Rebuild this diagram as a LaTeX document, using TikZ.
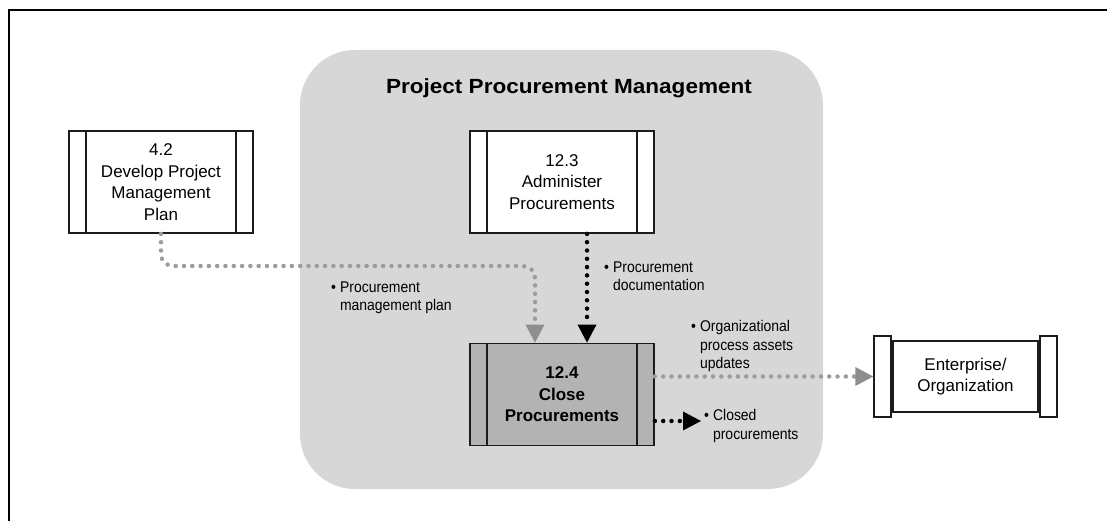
\documentclass[tikz,border=0pt]{standalone}
\usepackage{fontspec}
\setmainfont{Liberation Sans}
\newfontfamily\narrowfont{Liberation Sans}[FakeStretch=0.9]
\newfontfamily\widefont{Liberation Sans}[FakeStretch=1.1]
\usetikzlibrary{positioning,arrows.meta,calc}
\definecolor{regiongray}{HTML}{D7D7D7}
\definecolor{closegray}{HTML}{B3B3B3}
\definecolor{dotgray}{HTML}{9C9C9C}
\definecolor{tipgray}{HTML}{8E8E8E}
\definecolor{edgeblack}{HTML}{1C1C1C}
\newcommand{\bitem}[1]{\begin{tabular}[t]{@{}l@{\hspace{4pt}}l@{}}\textbullet&\begin{tabular}[t]{@{}l@{}}#1\end{tabular}\end{tabular}}
\tikzset{
  procbox/.style={draw=edgeblack,line width=1.8pt,fill=white,minimum width=184pt,
    minimum height=102pt,align=center,inner sep=0pt,font=\fontsize{17}{21.5}\selectfont,
    path picture={\draw[edgeblack,line width=1.8pt]
      ([xshift=17pt]path picture bounding box.north west) -- ([xshift=17pt]path picture bounding box.south west)
      ([xshift=-17pt]path picture bounding box.north east) -- ([xshift=-17pt]path picture bounding box.south east);}},
  entbox/.style={draw=edgeblack,line width=1.8pt,fill=white,minimum width=145pt,
    minimum height=71pt,align=center,inner sep=0pt,font=\fontsize{17}{21}\selectfont},
  entbar/.style={draw=edgeblack,line width=1.8pt,fill=white,minimum width=17pt,
    minimum height=81pt,inner sep=0pt},
  outlbl/.style={font=\narrowfont\fontsize{15.5}{18.5}\selectfont,inner sep=0pt,anchor=base west},
  graydots/.style={dotgray,line width=4.5pt,line cap=round,dash pattern=on 0pt off 8.3pt,
    rounded corners=12pt,-{Triangle[length=18pt,width=19pt,line width=0pt,color=tipgray,fill=tipgray]}},
  blackdots/.style={black,line width=4.5pt,line cap=round,dash pattern=on 0pt off 8.3pt,
    -{Triangle[length=18pt,width=19pt,line width=0pt]}},
}
\begin{document}
\begin{tikzpicture}[x=1pt,y=-1pt]
  \useasboundingbox (0,0) rectangle (1107,521);
  % outer frame (top and left)
  \draw[line width=2pt] (9,521) -- (9,10) -- (1107,10);
  % knowledge area
  \fill[regiongray,rounded corners=55pt] (300,50) rectangle (823,489);
  \node[font=\widefont\bfseries\fontsize{20.5}{24}\selectfont,anchor=base] (title) at (569,94)
    {Project Procurement Management};
  % processes
  \node[procbox] (plan) at (161,182) {4.2\\Develop Project\\Management\\Plan};
  \node[procbox] (admin) at (562,182) {12.3\\Administer\\Procurements};
  \node[procbox,fill=closegray,font=\bfseries\fontsize{17}{21.5}\selectfont] (close) at (562,394.5)
    {12.4\\Close\\Procurements};
  \node[entbox] (ent) at (965.5,376.5) {Enterprise/\\Organization};
  \node[entbar,anchor=east] (entl) at (ent.west) {};
  \node[entbar,anchor=west] (entr) at (ent.east) {};
  % flows
  \coordinate (bend) at (535,266);
  \coordinate (closedend) at (701,421);
  \draw[graydots] (plan.south) -- (plan.south |- bend) -- (bend) -- (bend |- close.north);
  \draw[blackdots] ([xshift=25pt]admin.south) -- ([xshift=25pt]close.north);
  \draw[graydots] (close.east |- entl.west) -- (entl.west);
  \draw[blackdots] (close.east |- closedend) -- (closedend);
  % flow labels
  \node[outlbl] (lplan) at (331,292) {\bitem{Procurement\\management plan}};
  \node[outlbl] (ldoc) at (604,272) {\bitem{Procurement\\documentation}};
  \node[outlbl] (lopa) at (691,331.5) {\bitem{Organizational\\process assets\\updates}};
  \node[outlbl] (lclosed) at (704,420.5) {\bitem{Closed\\procurements}};
\end{tikzpicture}
\end{document}
